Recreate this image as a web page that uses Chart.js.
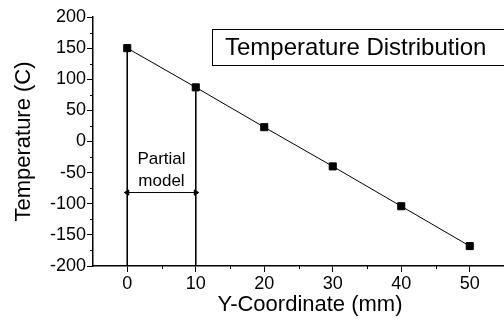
<!DOCTYPE html>
<html>
<head>
<meta charset="utf-8">
<script src="https://cdn.jsdelivr.net/npm/chart.js@4"></script>
<style>
  html, body { margin: 0; padding: 0; background: #fff; }
  #wrap { width: 504px; height: 325px; }
</style>
</head>
<body>
<div id="wrap"><canvas id="temp-plot"></canvas></div>
<script>
// Temperature along the Y coordinate, with the partial model span marked

// data
const yCoord = [0, 10, 20, 30, 40, 50];
const temperature = [150, 87, 23, -40, -104, -168];

// axes
const xMajorTicks = [0, 10, 20, 30, 40, 50];
const xMinorTicks = [5, 15, 25, 35, 45];
const yMajorTicks = [-200, -150, -100, -50, 0, 50, 100, 150, 200];
const yMinorTicks = [-175, -125, -75, -25, 25, 75, 125, 175];

// partial model span (x from / to) and where the arrow sits
const partialSpan = [0, 10];
const arrowLevel = -82;
const partialTextLevels = [-29, -64];

const FONT = '"Liberation Sans", Arial, sans-serif';

function toPoints(xs, ys) {
    return xs.map((x, i) => ({ x: x, y: ys[i] }));
}

const lineStyle = {
    showLine: true,
    borderColor: '#000',
    backgroundColor: '#000',
    borderWidth: 1,
    pointRadius: 0
};

const datasets = [
    {
        ...lineStyle,
        data: toPoints(yCoord, temperature),
        pointStyle: 'rect',
        pointRadius: 5,
        pointHoverRadius: 5
    },
    // boundaries of the partial model, from the curve down to the axis
    {
        ...lineStyle,
        data: [{ x: partialSpan[0], y: temperature[0] }, { x: partialSpan[0], y: yMajorTicks[0] }]
    },
    {
        ...lineStyle,
        data: [{ x: partialSpan[1], y: temperature[1] }, { x: partialSpan[1], y: yMajorTicks[0] }]
    },
    // double arrow
    {
        ...lineStyle,
        data: [{ x: partialSpan[0], y: arrowLevel }, { x: partialSpan[1], y: arrowLevel }],
        pointStyle: 'triangle',
        pointRadius: 3,
        pointRotation: ctx => (ctx.dataIndex === 0 ? -90 : 90)
    }
];

// minor ticks, labels and the boxed caption
const extras = {
    id: 'extras',
    afterDraw(chart) {
        const { ctx, scales: { x, y } } = chart;
        ctx.save();
        ctx.strokeStyle = '#000';
        ctx.lineWidth = 1;
        ctx.beginPath();
        xMinorTicks.forEach(v => {
            const px = Math.round(x.getPixelForValue(v)) + 0.5;
            ctx.moveTo(px, x.top);
            ctx.lineTo(px, x.top + 3);
        });
        yMinorTicks.forEach(v => {
            const py = Math.round(y.getPixelForValue(v)) + 0.5;
            ctx.moveTo(y.right, py);
            ctx.lineTo(y.right - 3, py);
        });
        ctx.stroke();

        ctx.fillStyle = '#000';
        ctx.textAlign = 'center';
        ctx.textBaseline = 'middle';
        ctx.font = '17px ' + FONT;
        const cx = x.getPixelForValue((partialSpan[0] + partialSpan[1]) / 2);
        ctx.fillText('Partial', cx, y.getPixelForValue(partialTextLevels[0]));
        ctx.fillText('model', cx, y.getPixelForValue(partialTextLevels[1]));

        ctx.font = '22px ' + FONT;
        ctx.fillText('Y-Coordinate (mm)', 310, 305);

        ctx.strokeRect(212.5, 29.5, 300, 36);
        ctx.textAlign = 'left';
        ctx.font = '24px ' + FONT;
        ctx.fillText('Temperature Distribution', 225, 48);
        ctx.restore();
    }
};

const tickFont = { family: FONT, size: 18 };

const config = {
    type: 'scatter',
    data: { datasets: datasets },
    options: {
        responsive: true,
        maintainAspectRatio: false,
        animation: false,
        layout: {
            autoPadding: false,
            padding: { top: 17, right: 0, bottom: 0, left: 0 }
        },
        plugins: {
            legend: { display: false },
            tooltip: { enabled: false }
        },
        scales: {
            x: {
                type: 'linear',
                min: -5,
                max: 55,
                afterBuildTicks: scale => { scale.ticks = xMajorTicks.map(v => ({ value: v })); },
                afterFit: scale => {
                    scale.height = 59;
                    scale.paddingLeft = 0;
                    scale.paddingRight = 0;
                },
                border: { color: '#000', width: 1.5 },
                grid: { drawOnChartArea: false, tickLength: 6, tickColor: '#000', tickWidth: 1 },
                ticks: { color: '#000', font: tickFont, padding: 1, maxRotation: 0 }
            },
            y: {
                type: 'linear',
                min: -200,
                max: 200,
                afterBuildTicks: scale => { scale.ticks = yMajorTicks.map(v => ({ value: v })); },
                afterFit: scale => {
                    scale.width = 93;
                    scale.paddingTop = 0;
                    scale.paddingBottom = 0;
                },
                border: { color: '#000', width: 1.5 },
                grid: { drawOnChartArea: false, tickLength: 6, tickColor: '#000', tickWidth: 1 },
                ticks: { color: '#000', font: tickFont, padding: 1 },
                title: {
                    display: true,
                    text: 'Temperature (C)',
                    color: '#000',
                    font: { family: FONT, size: 22 },
                    padding: { top: 11, bottom: 0 }
                }
            }
        }
    },
    plugins: [extras]
};

new Chart(document.getElementById('temp-plot'), config);
</script>
</body>
</html>
